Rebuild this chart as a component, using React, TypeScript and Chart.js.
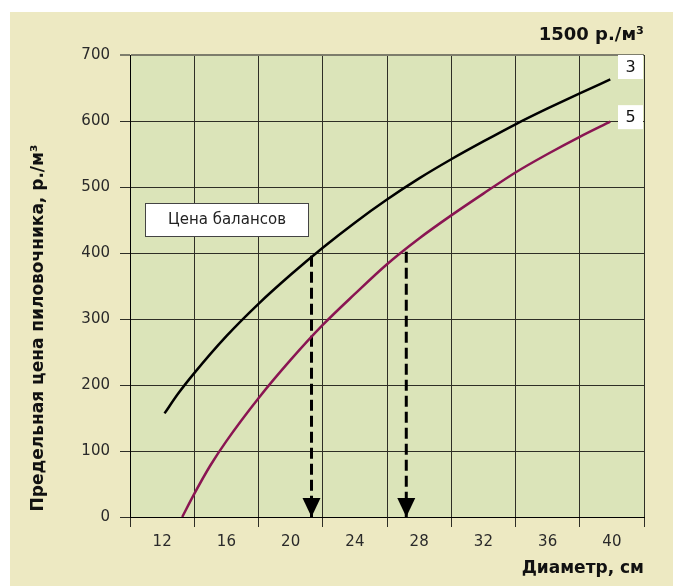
import React, { useEffect, useRef } from "react";
import { Chart, registerables } from "chart.js";

Chart.register(...registerables);

// ---- data ----
const diameters3 = [12.15, 13, 14, 16, 18, 20, 22, 24, 26, 28, 30, 32, 34, 36, 38, 39.9];
const prices3 = [157, 187, 218, 274, 323, 367, 408, 446, 481, 513, 542, 569, 595, 619, 642, 663];
const diameters5 = [13.25, 14, 15, 16, 18, 20, 22, 24, 26, 28, 30, 32, 34, 36, 38, 39.9];
const prices5 = [0, 35, 78, 115, 180, 238, 291, 338, 383, 422, 457, 490, 522, 550, 576, 599];
const arrowDiameters = [21.3, 27.2];
const arrowTops = [396, 402];
const xGridTicks = [10, 12, 14, 16, 18, 20, 22, 24, 26, 28, 30, 32, 34, 36, 38, 40, 42];
const xLabelTicks = [12, 16, 20, 24, 28, 32, 36, 40];
const seriesLabels = ["3", "5"];
const labelBoxTops = [700, 624];

const TICK_FONT = "DejaVu Sans";
const BOLD_FONT = "DejaVu Sans";

const decorPlugin = {
  id: "decor",
  beforeDraw(chart: any) {
    const { ctx, chartArea } = chart;
    ctx.save();
    ctx.fillStyle = "#ffffff";
    ctx.fillRect(0, 0, chart.width, chart.height);
    ctx.fillStyle = "#ede9c2";
    ctx.fillRect(10, 12, 663, 574);
    ctx.fillStyle = "#dbe4b9";
    ctx.fillRect(chartArea.left, chartArea.top, chartArea.right - chartArea.left, chartArea.bottom - chartArea.top);
    ctx.restore();
  },
  afterDraw(chart: any) {
    const { ctx, chartArea } = chart;
    const xs = chart.scales.x;
    const ys = chart.scales.y;
    ctx.save();
    // arrowheads
    ctx.fillStyle = "#000";
    arrowDiameters.forEach((d) => {
      const px = xs.getPixelForValue(d);
      const py = ys.getPixelForValue(0);
      ctx.beginPath();
      ctx.moveTo(px - 9, py - 19);
      ctx.lineTo(px + 9, py - 19);
      ctx.lineTo(px, py);
      ctx.closePath();
      ctx.fill();
    });
    // series label boxes
    seriesLabels.forEach((lab, i) => {
      const top = ys.getPixelForValue(labelBoxTops[i]);
      const left = chartArea.right - 26;
      ctx.fillStyle = "#ffffff";
      ctx.fillRect(left, top, 25, 24);
      ctx.fillStyle = "#111";
      ctx.font = `16px ${TICK_FONT}`;
      ctx.textAlign = "center";
      ctx.textBaseline = "middle";
      ctx.fillText(lab, left + 12.5, top + 12.5);
    });
    // "Цена балансов" box
    const bx = chartArea.left + 15;
    const by = chartArea.top + 148;
    ctx.fillStyle = "#ffffff";
    ctx.fillRect(bx, by, 164, 34);
    ctx.strokeStyle = "#444";
    ctx.lineWidth = 1;
    ctx.strokeRect(bx + 0.5, by + 0.5, 163, 33);
    ctx.fillStyle = "#222";
    ctx.font = `15px ${TICK_FONT}`;
    ctx.textAlign = "center";
    ctx.textBaseline = "middle";
    ctx.fillText("Цена балансов", bx + 82, by + 17.5);
    // top-right title
    ctx.fillStyle = "#111";
    ctx.font = `bold 18px ${BOLD_FONT}`;
    ctx.textAlign = "right";
    ctx.textBaseline = "alphabetic";
    ctx.fillText("1500 р./м³", 644, 40);
    // x title
    ctx.font = `bold 17px ${BOLD_FONT}`;
    ctx.fillText("Диаметр, см", 644, 573);
    // y title
    ctx.translate(43, 328);
    ctx.rotate(-Math.PI / 2);
    ctx.textAlign = "center";
    ctx.fillText("Предельная цена пиловочника, р./м³", 0, 0);
    ctx.restore();
  },
};

export default function App() {
  const ref = useRef<HTMLCanvasElement | null>(null);
  useEffect(() => {
    if (!ref.current) return;
    const chart = new Chart(ref.current, {
      type: "line",
      data: {
        datasets: [
          {
            data: diameters3.map((x, i) => ({ x, y: prices3[i] })),
            borderColor: "#000000",
            borderWidth: 2.5,
            pointRadius: 0,
            cubicInterpolationMode: "monotone",
          },
          {
            data: diameters5.map((x, i) => ({ x, y: prices5[i] })),
            borderColor: "#8a1552",
            borderWidth: 2.5,
            pointRadius: 0,
            cubicInterpolationMode: "monotone",
          },
          ...arrowDiameters.map((d, i) => ({
            data: [
              { x: d, y: arrowTops[i] },
              { x: d, y: 0 },
            ],
            borderColor: "#000000",
            borderWidth: 3,
            borderDash: [11, 5],
            pointRadius: 0,
          })),
        ],
      },
      options: {
        responsive: false,
        animation: false,
        layout: { padding: { top: 55, right: 33, left: 0, bottom: 0 } },
        plugins: { legend: { display: false }, tooltip: { enabled: false }, title: { display: false } },
        scales: {
          x: {
            type: "linear",
            min: 10,
            max: 42,
            afterBuildTicks: (scale: any) => {
              scale.ticks = xGridTicks.map((v) => ({ value: v }));
            },
            afterFit: (scale: any) => {
              scale.height = 69;
            },
            grid: {
              color: (c: any) => (c.tick && xLabelTicks.includes(c.tick.value) ? "rgba(0,0,0,0)" : "#2e2e26"),
              lineWidth: 1,
              tickLength: 10,
            },
            border: { display: true, color: "#000", width: 1 },
            ticks: {
              autoSkip: false,
              maxRotation: 0,
              padding: 6,
              color: "#2a2a2a",
              font: { family: TICK_FONT, size: 15 },
              callback: (v: any) => (xLabelTicks.includes(Number(v)) ? String(v) : ""),
            },
          },
          y: {
            type: "linear",
            min: 0,
            max: 700,
            afterFit: (scale: any) => {
              scale.width = 130;
            },
            grid: {
              color: (c: any) => (c.tick && c.tick.value === 700 ? "#7d7d6c" : "#2e2e26"),
              lineWidth: (c: any) => (c.tick && c.tick.value === 700 ? 2 : 1),
              tickLength: 10,
            },
            border: { display: true, color: "#000", width: 1 },
            ticks: {
              stepSize: 100,
              padding: 10,
              color: "#2a2a2a",
              font: { family: TICK_FONT, size: 15 },
            },
          },
        },
      },
      plugins: [decorPlugin],
    } as any);
    return () => chart.destroy();
  }, []);
  return (
    <div style={{ position: "absolute", left: 0, top: 0, width: 677, height: 586 }}>
      <canvas ref={ref} width={677} height={586} />
    </div>
  );
}
